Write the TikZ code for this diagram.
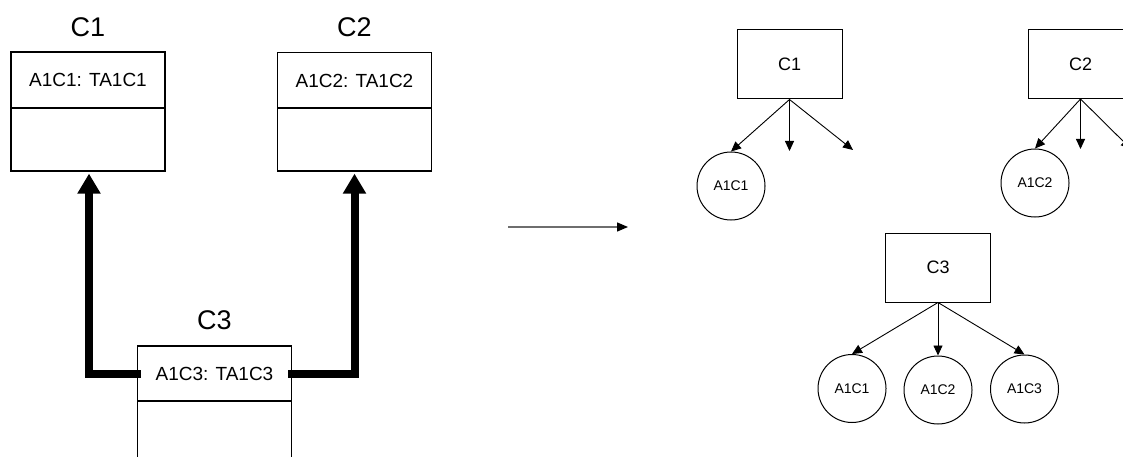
\documentclass[tikz,border=0pt]{standalone}
\usepackage{fontspec}
\setmainfont{Liberation Sans}
\usetikzlibrary{arrows.meta}
\begin{document}
\begin{tikzpicture}[x=1pt,y=-1pt,
  title/.style={font=\fontsize{27}{30}\selectfont, inner sep=0pt},
  attr/.style={draw, line width=1.2pt, minimum width=154pt, minimum height=56pt, inner sep=0pt, font=\fontsize{19}{21}\selectfont},
  ops/.style={draw, line width=1.2pt, minimum width=154pt, inner sep=0pt},
  inh/.style={line width=8pt, line join=miter, -{Triangle[length=20pt,width=22pt]}},
  cls/.style={draw, line width=1pt, minimum width=105pt, minimum height=69pt, inner sep=0pt, font=\fontsize{18}{20}\selectfont},
  att/.style={draw, circle, line width=1pt, minimum size=68pt, inner sep=0pt, font=\fontsize{14}{16}\selectfont},
  tree/.style={line width=0.9pt, -{Triangle[length=10pt,width=9pt]}},
  trans/.style={line width=1.3pt, draw={rgb,255:red,110;green,110;blue,110}, -{Triangle[length=11pt,width=9pt,color=black]}}
]
\useasboundingbox (0,0) rectangle (1123,457);
\clip (0,0) rectangle (1123,457);

% ---- left: class diagram ----
\node[title] (c1t) at (88,27) {C1};
\node[attr] (c1a) at (88,80) {A1C1: TA1C1};
\node[ops, minimum height=63pt] (c1o) at (88,139.5) {};

\node[title] (c2t) at (354.5,27) {C2};
\node[attr] (c2a) at (354.5,80.5) {A1C2: TA1C2};
\node[ops, minimum height=63pt] (c2o) at (354.5,139.5) {};

\node[title] (c3t) at (214.5,320) {C3};
\node[attr, minimum height=55pt] (c3a) at (214.5,373.5) {A1C3: TA1C3};
\node[ops, minimum height=90pt] (c3o) at (214.5,446) {};

\draw[inh] ([xshift=4pt]c3a.west) -| ([xshift=1pt,yshift=-2pt]c1o.south);
\draw[inh] ([xshift=-4pt]c3a.east) -| ([yshift=-2pt]c2o.south);

% ---- transformation arrow ----
\coordinate (tfrom) at (508,227);
\coordinate (tto) at (628,227);
\draw[trans] (tfrom) -- (tto);

% ---- right: trees ----
\node[cls] (r1) at (789.5,64.5) {C1};
\node[att] (r1a) at (731,186) {A1C1};
\coordinate (r1m) at (789.5,151);
\coordinate (r1r) at (853,150);
\draw[tree] (r1.south) -- (r1a.north);
\draw[tree] (r1.south) -- (r1m);
\draw[tree] (r1.south) -- (r1r);

\node[cls] (r2) at (1080.5,64) {C2};
\node[att] (r2a) at (1035,183) {A1C2};
\coordinate (r2m) at (1080.5,149);
\coordinate (r2r) at (1131,149);
\draw[tree] (r2.south) -- (r2a.north);
\draw[tree] (r2.south) -- (r2m);
\draw[tree] (r2.south) -- (r2r);

\node[cls] (r3) at (938,267.5) {C3};
\node[att] (r3a) at (852,388.5) {A1C1};
\node[att] (r3b) at (938,390) {A1C2};
\node[att] (r3c) at (1024.5,389) {A1C3};
\draw[tree] (r3.south) -- (r3a.north);
\draw[tree] (r3.south) -- (r3b.north);
\draw[tree] (r3.south) -- (r3c.north);
\end{tikzpicture}
\end{document}
